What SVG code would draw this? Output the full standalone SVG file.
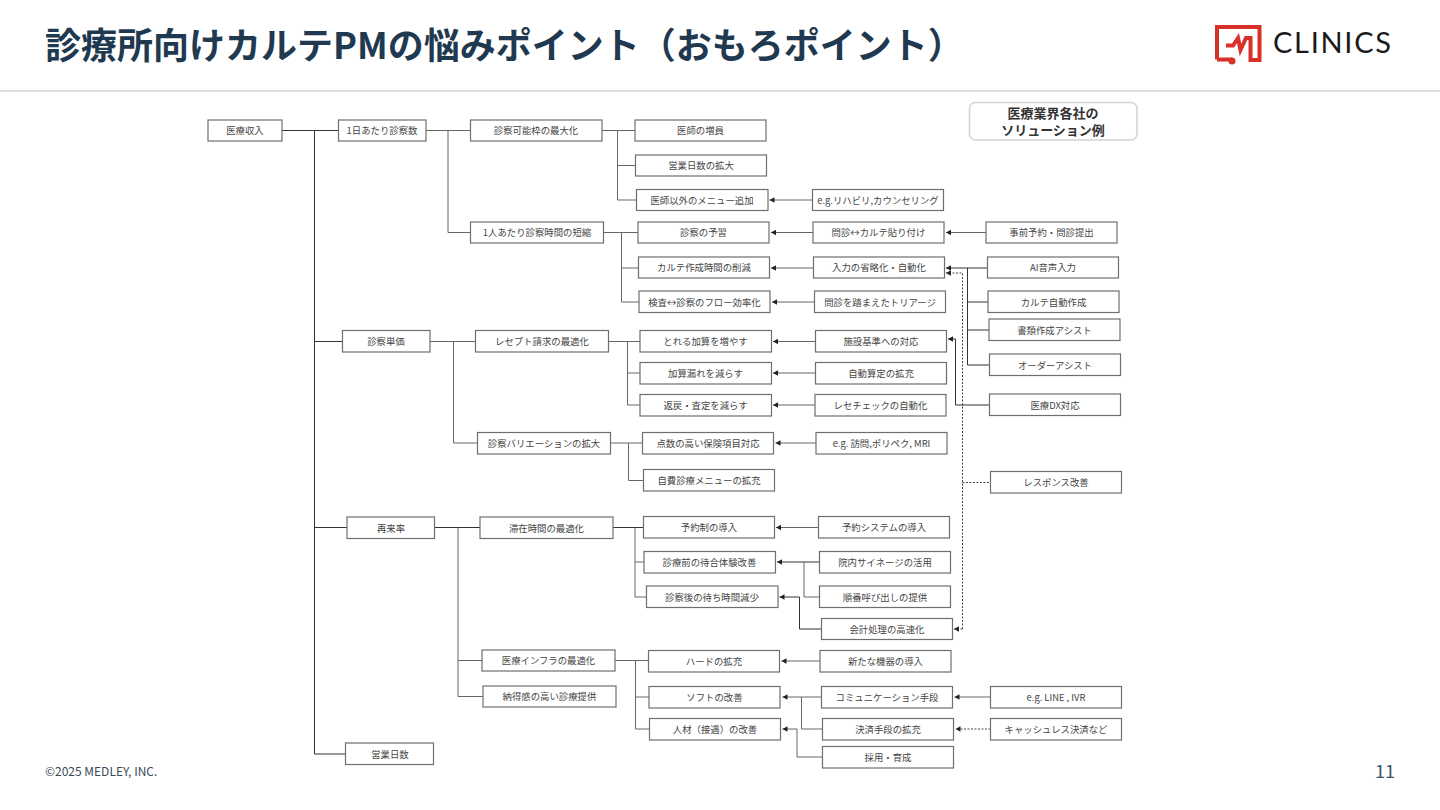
<svg xmlns="http://www.w3.org/2000/svg" width="1440" height="810" viewBox="0 0 1440 810">
<style>
text{font-family:"Noto Sans CJK JP","Noto Sans",sans-serif}
.b{fill:#fff;stroke:#6e6e6e;stroke-width:1.2}
.t{font-size:9.4px;fill:#444;text-anchor:middle;transform:translateY(.4px)}
.c{fill:none;stroke:#666;stroke-width:1}
.k{stroke:#333}
.a{marker-end:url(#ar)}
.d{stroke:#444;stroke-dasharray:2 1.5}
.l{font-size:13px;font-weight:700;fill:#333;text-anchor:middle}
</style>
<defs><marker id="ar" markerUnits="userSpaceOnUse" markerWidth="6" markerHeight="6" refX="5" refY="3" orient="auto"><path d="M0 0.2L5 3L0 5.8Z" fill="#222"/></marker></defs>
<rect width="1440" height="810" fill="#fff"/>
<text x="45" y="59" font-size="36" font-weight="700" fill="#1f3a50">診療所向けカルテPMの悩みポイント（おもろポイント）</text>
<rect x="0" y="90" width="1440" height="2" fill="#dedede"/>
<g id="logo"><path d="M1217 59.500V27H1259.500V60H1250.500V38H1246L1240.500 50L1238 38L1233 45.500H1226M1217 59.500H1232" fill="none" stroke="#d8312a" stroke-width="4"/><circle cx="1232" cy="61" r="3.500" fill="#d8312a"/>
<text x="1273" y="53" font-size="29" fill="#1a1a1a" textLength="118" style="font-family:Lato,'Liberation Sans',sans-serif">CLINICS</text></g>
<g id="connectors">
<path class="c k" d="M282 130.500H338M314.500 130.500V754H345.500M314.500 341.500H342.500M314.500 527.500H347"/>
<path class="c" d="M426 130.500H470.500M448 130.500V232.500H470.500M602 130.500H635M617.500 130.500V200H636.500M617.500 165.500H635.500M604 232.500H638M621.500 232.500V302H639M621.500 268H638.500"/>
<path class="c a" d="M812.500 200H769.500"/><path class="c a" d="M813 232.500H771"/><path class="c a" d="M986 232.500H946"/><path class="c a" d="M813.500 268H771"/><path class="c a" d="M814.500 302H772"/>
<path class="c k a" d="M987.500 268H946"/>
<path class="c k" d="M967.500 268V365H989.500M967.500 302H988M967.500 330H989"/>
<path class="c d a" d="M962.500 629V273H946"/><path class="c d a" d="M962.500 629H954"/><path class="c d" d="M962.500 482.500H990.500"/>
<path class="c k a" d="M989.500 405H955.500V339H948"/>
<path class="c a" d="M815.500 341.500H773"/><path class="c a" d="M815.500 373H773"/><path class="c a" d="M815 405H773"/><path class="c a" d="M816 443H775.500"/>
<path class="c" d="M430 341.500H475.500M453.500 341.500V443H477.500M608.500 341.500H640M627.500 341.500V405H640M627.500 373H640M610.500 443H642.500M628.500 443V480.500H643.500"/>
<path class="c k" d="M434.500 527.500H480M613 527.500H643.500"/>
<path class="c" d="M458 527.500V696.500H483M458 660.500H482M635 527.500V597H646.500M635 562H644"/>
<path class="c a" d="M818.500 527.500H776"/><path class="c k a" d="M819.500 562H777"/><path class="c" d="M804 562V597H819.500"/>
<path class="c k a" d="M821.500 629H799.500V597H779.500"/>
<path class="c" d="M615 660.500H648.500M635.500 660.500V729H649.500M635.500 697H649"/>
<path class="c a" d="M820 661H781.500"/><path class="c a" d="M821.500 697H782.500"/><path class="c" d="M801.500 697V729H822.500"/>
<path class="c a" d="M822.500 757H797V729H782.500"/><path class="c a" d="M990.500 697H954.500"/><path class="c d a" d="M990.500 729H955.500"/>
</g>
<g id="n1"><rect class="b" x="208" y="120" width="74" height="21"/><text class="t" x="245" y="134">医療収入</text></g>
<g id="n2"><rect class="b" x="338.500" y="120" width="87.500" height="21"/><text class="t" x="382" y="134">1日あたり診察数</text></g>
<g id="n3"><rect class="b" x="470.500" y="120" width="131.500" height="21"/><text class="t" x="536" y="134">診察可能枠の最大化</text></g>
<g id="n4"><rect class="b" x="470.500" y="222" width="133" height="21"/><text class="t" x="537" y="236">1人あたり診察時間の短縮</text></g>
<g id="n5"><rect class="b" x="635" y="120" width="131" height="21"/><text class="t" x="700.500" y="134">医師の増員</text></g>
<g id="n6"><rect class="b" x="635.500" y="155" width="131" height="21"/><text class="t" x="701" y="169">営業日数の拡大</text></g>
<g id="n7"><rect class="b" x="636.500" y="189.500" width="131.500" height="21"/><text class="t" x="702" y="203.500">医師以外のメニュー追加</text></g>
<g id="n8"><rect class="b" x="638" y="222" width="131" height="21"/><text class="t" x="703.500" y="236">診察の予習</text></g>
<g id="n9"><rect class="b" x="638.500" y="257" width="131" height="21"/><text class="t" x="704" y="271">カルテ作成時間の削減</text></g>
<g id="n10"><rect class="b" x="639" y="291" width="131" height="21.500"/><text class="t" x="704.500" y="305.500">検査↔診察のフロー効率化</text></g>
<g id="n11"><rect class="b" x="812.500" y="189.500" width="131" height="21"/><text class="t" x="878" y="203.500">e.g.リハビリ,カウンセリング</text></g>
<g id="n12"><rect class="b" x="813" y="222" width="131" height="21"/><text class="t" x="878.500" y="236">問診↔カルテ貼り付け</text></g>
<g id="n13"><rect class="b" x="813.500" y="257" width="131" height="21"/><text class="t" x="879" y="271">入力の省略化・自動化</text></g>
<g id="n14"><rect class="b" x="814.500" y="291" width="131" height="21.500"/><text class="t" x="880" y="305.500">問診を踏まえたトリアージ</text></g>
<g id="n15"><rect class="b" x="986" y="222" width="131" height="21"/><text class="t" x="1051.500" y="236">事前予約・問診提出</text></g>
<g id="n16"><rect class="b" x="987.500" y="257" width="131" height="21"/><text class="t" x="1053" y="271">AI音声入力</text></g>
<g id="n17"><rect class="b" x="988" y="291" width="131" height="21.500"/><text class="t" x="1053.500" y="305.500">カルテ自動作成</text></g>
<g id="n18"><rect class="b" x="989" y="319" width="131" height="21.500"/><text class="t" x="1054.500" y="333.500">書類作成アシスト</text></g>
<g id="n19"><rect class="b" x="989.500" y="354" width="131" height="21.500"/><text class="t" x="1055" y="368.500">オーダーアシスト</text></g>
<g id="n20"><rect class="b" x="989.500" y="394" width="131" height="21.500"/><text class="t" x="1055" y="408.500">医療DX対応</text></g>
<g id="n21"><rect class="b" x="990.500" y="471.500" width="131" height="21.500"/><text class="t" x="1056" y="486">レスポンス改善</text></g>
<g id="n22"><rect class="b" x="342.500" y="330.500" width="87.500" height="21.500"/><text class="t" x="386" y="345">診察単価</text></g>
<g id="n23"><rect class="b" x="475.500" y="330.500" width="133" height="21.500"/><text class="t" x="542" y="345">レセプト請求の最適化</text></g>
<g id="n24"><rect class="b" x="477.500" y="432.500" width="133" height="21.500"/><text class="t" x="544" y="447">診察バリエーションの拡大</text></g>
<g id="n25"><rect class="b" x="640" y="330.500" width="131.500" height="21.500"/><text class="t" x="705.500" y="345">とれる加算を増やす</text></g>
<g id="n26"><rect class="b" x="640" y="362.500" width="131.500" height="21.500"/><text class="t" x="705.500" y="377">加算漏れを減らす</text></g>
<g id="n27"><rect class="b" x="640" y="394.500" width="131.500" height="21.500"/><text class="t" x="705.500" y="409">返戻・査定を減らす</text></g>
<g id="n28"><rect class="b" x="642.500" y="432.500" width="131" height="21.500"/><text class="t" x="708" y="447">点数の高い保険項目対応</text></g>
<g id="n29"><rect class="b" x="643.500" y="469.500" width="131" height="21.500"/><text class="t" x="709" y="484">自費診療メニューの拡充</text></g>
<g id="n30"><rect class="b" x="815.500" y="330.500" width="131" height="21.500"/><text class="t" x="881" y="345">施設基準への対応</text></g>
<g id="n31"><rect class="b" x="815.500" y="362.500" width="131" height="21.500"/><text class="t" x="881" y="377">自動算定の拡充</text></g>
<g id="n32"><rect class="b" x="815" y="394.500" width="131" height="21.500"/><text class="t" x="880.500" y="409">レセチェックの自動化</text></g>
<g id="n33"><rect class="b" x="816" y="432.500" width="131" height="21.500"/><text class="t" x="881.500" y="447">e.g. 訪問,ポリペク, MRI</text></g>
<g id="n34"><rect class="b" x="347" y="517" width="87.500" height="21.500"/><text class="t" x="391" y="531.500">再来率</text></g>
<g id="n35"><rect class="b" x="480" y="517" width="133" height="21.500"/><text class="t" x="546.500" y="531.500">滞在時間の最適化</text></g>
<g id="n36"><rect class="b" x="643.500" y="516.500" width="131" height="21.500"/><text class="t" x="709" y="531">予約制の導入</text></g>
<g id="n37"><rect class="b" x="644" y="551.500" width="131.500" height="21.500"/><text class="t" x="709.500" y="566">診療前の待合体験改善</text></g>
<g id="n38"><rect class="b" x="646.500" y="586" width="131.500" height="21.500"/><text class="t" x="712" y="600.500">診察後の待ち時間減少</text></g>
<g id="n39"><rect class="b" x="818.500" y="516.500" width="131" height="21.500"/><text class="t" x="884" y="531">予約システムの導入</text></g>
<g id="n40"><rect class="b" x="819.500" y="551.500" width="131" height="21.500"/><text class="t" x="885" y="566">院内サイネージの活用</text></g>
<g id="n41"><rect class="b" x="819.500" y="586" width="131" height="21.500"/><text class="t" x="885" y="600.500">順番呼び出しの提供</text></g>
<g id="n42"><rect class="b" x="821.500" y="618.500" width="131" height="21"/><text class="t" x="887" y="632.500">会計処理の高速化</text></g>
<g id="n43"><rect class="b" x="482" y="650" width="133" height="21"/><text class="t" x="548.500" y="664">医療インフラの最適化</text></g>
<g id="n44"><rect class="b" x="483" y="686" width="133" height="21"/><text class="t" x="549.500" y="700">納得感の高い診療提供</text></g>
<g id="n45"><rect class="b" x="648.500" y="650.500" width="131" height="21.500"/><text class="t" x="714" y="665">ハードの拡充</text></g>
<g id="n46"><rect class="b" x="820" y="650.500" width="131" height="21.500"/><text class="t" x="885.500" y="665">新たな機器の導入</text></g>
<g id="n47"><rect class="b" x="649" y="686.500" width="131" height="21.500"/><text class="t" x="714.500" y="701">ソフトの改善</text></g>
<g id="n48"><rect class="b" x="649.500" y="718.500" width="131" height="21.500"/><text class="t" x="715" y="733">人材（接遇）の改善</text></g>
<g id="n49"><rect class="b" x="821.500" y="686.500" width="131" height="21.500"/><text class="t" x="887" y="701">コミュニケーション手段</text></g>
<g id="n50"><rect class="b" x="822.500" y="718.500" width="131" height="21.500"/><text class="t" x="888" y="733">決済手段の拡充</text></g>
<g id="n51"><rect class="b" x="822.500" y="746.500" width="131" height="21.500"/><text class="t" x="888" y="761">採用・育成</text></g>
<g id="n52"><rect class="b" x="990.500" y="686.500" width="131" height="21.500"/><text class="t" x="1056" y="701">e.g. LINE , IVR</text></g>
<g id="n53"><rect class="b" x="990.500" y="718.500" width="131" height="21.500"/><text class="t" x="1056" y="733">キャッシュレス決済など</text></g>
<g id="n54"><rect class="b" x="345.500" y="743" width="88" height="21.500"/><text class="t" x="390" y="757.500">営業日数</text></g>
<g id="legend"><rect x="969.500" y="102.500" width="167.500" height="37.500" rx="6" fill="#fff" stroke="#d4d4d4" stroke-width="1.500"/><text class="l" x="1053" y="118">医療業界各社の</text><text class="l" x="1053" y="135">ソリューション例</text></g>
<text x="45" y="775.500" font-size="12" fill="#3a4a58">©2025 MEDLEY, INC.</text>
<text x="1395" y="778" font-size="18" fill="#3a5266" text-anchor="end">11</text>
</svg>
